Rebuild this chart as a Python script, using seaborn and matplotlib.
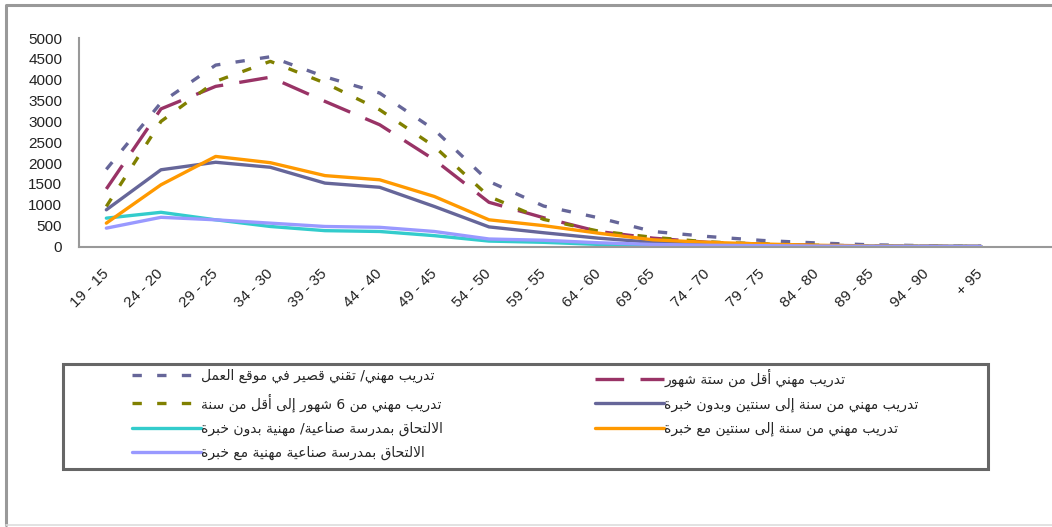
import matplotlib
matplotlib.use("Agg")
import matplotlib.pyplot as plt
from matplotlib.patches import Rectangle
from matplotlib.lines import Line2D
import pandas as pd
import seaborn as sns

# age groups (as printed on the chart)
ages = ["19 - 15", "24 - 20", "29 - 25", "34 - 30", "39 - 35", "44 - 40",
        "49 - 45", "54 - 50", "59 - 55", "64 - 60", "69 - 65", "74 - 70",
        "79 - 75", "84 - 80", "89 - 85", "94 - 90", "+ 95"]

names = [
    "تدريب مهني/ تقني قصير في موقع العمل",
    "تدريب مهني أقل من ستة شهور",
    "تدريب مهني من 6 شهور إلى أقل من سنة",
    "تدريب مهني من سنة إلى سنتين وبدون خبرة",
    "الالتحاق بمدرسة صناعية/ مهنية بدون خبرة",
    "تدريب مهني من سنة إلى سنتين مع خبرة",
    "الالتحاق بمدرسة صناعية مهنية مع خبرة",
]

s1 = [1850, 3450, 4350, 4550, 4070, 3680, 2800, 1560, 970, 690, 360, 240, 145, 85, 40, 20, 8]
s2 = [1380, 3300, 3840, 4060, 3480, 2920, 2080, 1060, 690, 360, 200, 100, 60, 30, 15, 5, 2]
s3 = [960, 3000, 3960, 4440, 3920, 3280, 2400, 1200, 650, 370, 220, 110, 60, 30, 15, 5, 2]
s4 = [880, 1840, 2020, 1900, 1520, 1420, 960, 470, 330, 200, 100, 60, 40, 20, 10, 5, 2]
s5 = [680, 820, 640, 480, 380, 360, 260, 130, 100, 50, 30, 20, 10, 5, 3, 2, 1]
s6 = [560, 1480, 2160, 2010, 1700, 1600, 1200, 640, 500, 320, 160, 100, 60, 30, 10, 5, 2]
s7 = [440, 700, 640, 560, 480, 460, 360, 180, 150, 90, 50, 30, 20, 10, 5, 3, 2]
series = [s1, s2, s3, s4, s5, s6, s7]

colors = ["#666699", "#993366", "#808000", "#666699", "#33CCCC", "#FF9900", "#9999FF"]
dash_styles = [(2.8, 4.6), (8.6, 4.9), (2.8, 4.6), None, None, None, None]

# --- minimal arabic shaping (no reshaper lib available) ---
# letter: (first presentation form code, number of forms)
FORMS = {
    "ا": (0xFE8D, 2), "أ": (0xFE83, 2), "إ": (0xFE87, 2), "ب": (0xFE8F, 4),
    "ة": (0xFE93, 2), "ت": (0xFE95, 4), "ح": (0xFEA1, 4), "خ": (0xFEA5, 4),
    "د": (0xFEA9, 2), "ر": (0xFEAD, 2), "س": (0xFEB1, 4), "ش": (0xFEB5, 4),
    "ص": (0xFEB9, 4), "ع": (0xFEC9, 4), "ف": (0xFED1, 4), "ق": (0xFED5, 4),
    "ل": (0xFEDD, 4), "م": (0xFEE1, 4), "ن": (0xFEE5, 4), "ه": (0xFEE9, 4),
    "و": (0xFEED, 2), "ى": (0xFEEF, 2), "ي": (0xFEF1, 4),
}
LAM_ALEF = {"ا": (0xFEFB, 2), "أ": (0xFEF7, 2), "إ": (0xFEF9, 2)}


def shape(s):
    toks = []
    i = 0
    while i < len(s):
        c = s[i]
        if c == "ل" and i + 1 < len(s) and s[i + 1] in LAM_ALEF:
            toks.append(LAM_ALEF[s[i + 1]])
            i += 2
        else:
            toks.append(FORMS.get(c, c))
            i += 1
    out = []
    for j, t in enumerate(toks):
        if not isinstance(t, tuple):
            out.append(t)
            continue
        base, n = t
        prev = j > 0 and isinstance(toks[j - 1], tuple) and toks[j - 1][1] == 4
        nxt = n == 4 and j + 1 < len(toks) and isinstance(toks[j + 1], tuple)
        if prev and nxt:
            k = 3
        elif prev:
            k = 1
        elif nxt:
            k = 2
        else:
            k = 0
        out.append(chr(base + k))
    return "".join(out)[::-1]


sns.set_style("white")
plt.rcParams["font.family"] = ["Liberation Sans", "DejaVu Sans"]

fig = plt.figure(figsize=(10.52, 5.27), dpi=100)
ax = fig.add_axes([79 / 1052, 1 - 246.5 / 527, 1 - 79 / 1052, (246.5 - 38) / 527])

handles = []
for vals, c, d in zip(series, colors, dash_styles):
    df = pd.DataFrame({"age": ages, "value": vals})
    sns.lineplot(data=df, x="age", y="value", color=c, linewidth=2.4, sort=False, ax=ax)
    ln = ax.lines[-1]
    if d is not None:
        ln.set_dashes(d)
    handles.append(ln)

ax.set_ylim(0, 5000)
ax.set_xlim(-0.5, 17.3)
ax.set_yticks(range(0, 5001, 500))
ax.set_xlabel("")
ax.set_ylabel("")
ax.tick_params(axis="y", length=0, pad=12, labelsize=11, labelcolor="#222")
ax.tick_params(axis="x", length=0, pad=18, labelsize=11, labelcolor="#222")
for lab in ax.get_xticklabels():
    lab.set_rotation(45)
    lab.set_ha("right")
    lab.set_va("center")
    lab.set_rotation_mode("anchor")
for side in ["top", "right"]:
    ax.spines[side].set_visible(False)
for side in ["left", "bottom"]:
    ax.spines[side].set_color("#999999")
    ax.spines[side].set_linewidth(1.5)

# outer frame: left and top in grey, faint bottom, no right edge
fx0, fy_top, fy_bot = 6 / 1052, 1 - 5 / 527, 1 - 525 / 527
fig.lines.append(Line2D([fx0, fx0, 1.0], [fy_bot, fy_top, fy_top], transform=fig.transFigure,
                        color="#999999", linewidth=2.2))
fig.lines.append(Line2D([fx0, 1.0], [fy_bot, fy_bot], transform=fig.transFigure,
                        color="#dddddd", linewidth=1.2))
# legend frame
fig.patches.append(Rectangle((63 / 1052, 1 - 469 / 527), (988 - 63) / 1052, (469 - 364) / 527,
                             transform=fig.transFigure, fill=False, edgecolor="#666666",
                             linewidth=2.2))

leg_kw = dict(loc="upper left", frameon=False, handlelength=5.0,
              handletextpad=0.0, labelspacing=0.72, borderpad=0, borderaxespad=0,
              prop={"family": ["DejaVu Sans"], "size": 10})
left_idx = [0, 2, 4, 6]
right_idx = [1, 3, 5]
fig.legend([handles[i] for i in left_idx], [shape(names[i]) for i in left_idx],
           bbox_to_anchor=(132 / 1052, 1 - 369 / 527), **leg_kw)
fig.legend([handles[i] for i in right_idx], [shape(names[i]) for i in right_idx],
           bbox_to_anchor=(595 / 1052, 1 - 369 / 527), **leg_kw)

fig.savefig("out.png", dpi=100, facecolor="white")
